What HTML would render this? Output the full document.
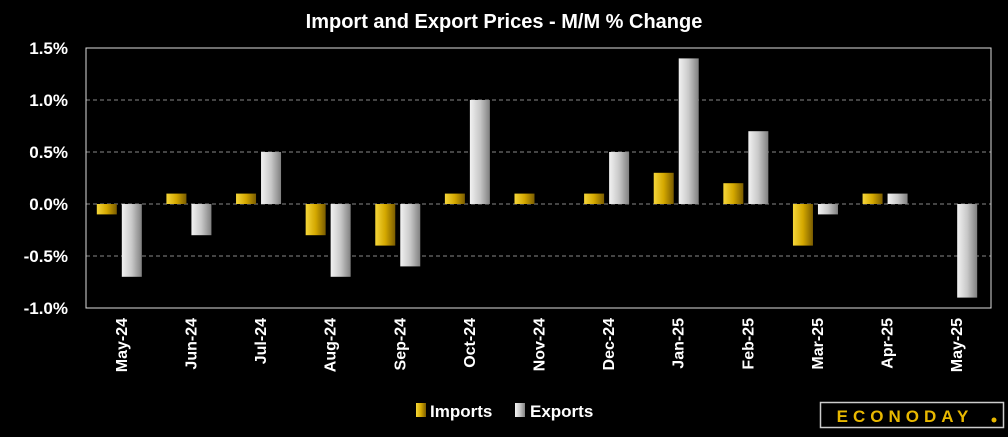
<!DOCTYPE html>
<html><head><meta charset="utf-8"><style>
body{margin:0;background:#000;width:1008px;height:432px;overflow:hidden;font-family:"Liberation Sans",sans-serif}
</style></head><body>
<svg width="1008" height="432" xmlns="http://www.w3.org/2000/svg">
<defs>
<linearGradient id="gi" x1="0" x2="1"><stop offset="0" stop-color="#f5d63a"/><stop offset="0.5" stop-color="#d4a800"/><stop offset="1" stop-color="#7a5c00"/></linearGradient>
<linearGradient id="ge" x1="0" x2="1"><stop offset="0" stop-color="#f2f2f2"/><stop offset="0.5" stop-color="#c8c8c8"/><stop offset="1" stop-color="#808080"/></linearGradient>
</defs>
<text x="504" y="28" fill="#fff" font-size="20" font-weight="bold" text-anchor="middle">Import and Export Prices - M/M % Change</text>
<g id="grid"></g>
<g id="bars"></g>
<rect x="86" y="48" width="905" height="260" fill="none" stroke="#ddd" stroke-width="1"/>
<g id="labels"></g>
<g>
<rect x="416" y="403" width="10" height="14" fill="url(#gi)"/>
<text x="430" y="417" fill="#fff" font-size="17" font-weight="bold">Imports</text>
<rect x="515" y="403" width="10" height="14" fill="url(#ge)"/>
<text x="530" y="417" fill="#fff" font-size="17" font-weight="bold">Exports</text>
</g>
<g>
<rect x="820.5" y="402.5" width="183" height="25" fill="#000" stroke="#ccc" stroke-width="1.5"/>
<text x="905" y="422" fill="#e8b800" font-size="17" font-weight="bold" letter-spacing="5" text-anchor="middle">ECONODAY</text>
<circle cx="994" cy="420" r="2.5" fill="#e8b800"/>
</g>
</svg>
<script>
const categories=["May-24","Jun-24","Jul-24","Aug-24","Sep-24","Oct-24","Nov-24","Dec-24","Jan-25","Feb-25","Mar-25","Apr-25","May-25"];
const imports=[-0.1,0.1,0.1,-0.3,-0.4,0.1,0.1,0.1,0.3,0.2,-0.4,0.1,0.0];
const exports=[-0.7,-0.3,0.5,-0.7,-0.6,1.0,0.0,0.5,1.4,0.7,-0.1,0.1,-0.9];
const ticks=[1.5,1.0,0.5,0.0,-0.5,-1.0];
const NS="http://www.w3.org/2000/svg";
const L=86,R=991,T=48,B=308,ymax=1.5,ymin=-1.0;
const y=v=>T+(ymax-v)/(ymax-ymin)*(B-T);
const bw=(R-L)/categories.length;
const xc=i=>L+bw*(i+0.5);
function mk(t,a,p){const e=document.createElementNS(NS,t);for(const k in a)e.setAttribute(k,a[k]);p.appendChild(e);return e;}
const grid=document.getElementById('grid'),bars=document.getElementById('bars'),labels=document.getElementById('labels');
ticks.forEach(t=>{
  if(t<ymax&&t>ymin){const g=mk('line',{x1:L,x2:R,y1:y(t),y2:y(t),stroke:'#888','stroke-dasharray':'4,3'},grid);
  
  }
  const tx=mk('text',{x:68,y:y(t)+6,fill:'#fff','font-size':17,'font-weight':'bold','text-anchor':'end'},labels);
  tx.textContent=t.toFixed(1)+'%';
  
  
});
categories.forEach((c,i)=>{
  const vi=imports[i],ve=exports[i];
  const r1=mk('rect',{x:xc(i)-24,y:Math.min(y(vi),y(0)),width:20,height:Math.abs(y(vi)-y(0)),fill:'url(#gi)'},bars);
  
  
  const r2=mk('rect',{x:xc(i)+1,y:Math.min(y(ve),y(0)),width:20,height:Math.abs(y(ve)-y(0)),fill:'url(#ge)'},bars);
  
  
  const tx=mk('text',{x:0,y:0,fill:'#fff','font-size':16,'font-weight':'bold','text-anchor':'end',transform:`translate(${xc(i)+6},318) rotate(-90)`},labels);
  tx.textContent=c;
  
  
});
</script>
</body></html>
